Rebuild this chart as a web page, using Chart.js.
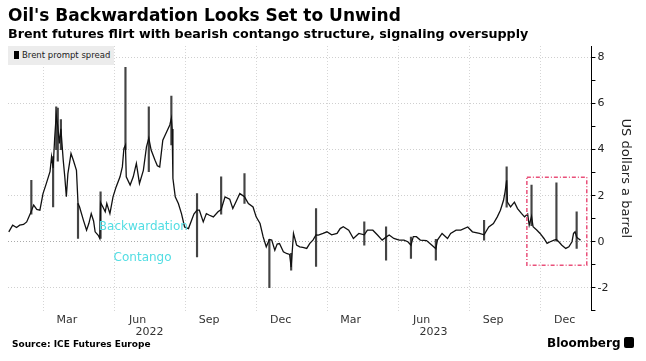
<!DOCTYPE html>
<html>
<head>
<meta charset="utf-8">
<script src="https://cdn.jsdelivr.net/npm/chart.js@4.4.0/dist/chart.umd.min.js"></script>
<style>
  body { margin: 0; background: #fff; font-family: 'DejaVu Sans', Verdana, sans-serif; }
  #wrap { position: relative; width: 646px; height: 361px; overflow: hidden; }
  #chart { position: absolute; left: 0; top: 0; }
  #title { position: absolute; left: 8px; top: 5px; font-size: 17px; font-weight: bold; color: #000; white-space: nowrap; }
  #subtitle { position: absolute; left: 8px; top: 26px; font-size: 12.7px; font-weight: bold; color: #000; white-space: nowrap; }
  #legend { position: absolute; left: 8px; top: 46px; height: 19px; padding: 0 4px 0 6px; background: #ececec;
            font-size: 8.5px; color: #222; line-height: 19px; white-space: nowrap; }
  #legend i { display: inline-block; width: 5px; height: 8px; background: #000; margin-right: 3px; vertical-align: -1px; }
  #source { position: absolute; left: 12px; top: 339px; font-size: 9px; font-weight: bold; color: #000; }
  #brand { position: absolute; left: 547px; top: 336px; font-size: 12px; font-weight: bold; color: #000; white-space: nowrap; }
  #brand span { display: inline-block; width: 10px; height: 11px; background: #000; border-radius: 2px; margin-left: 3px; vertical-align: -1px; }
</style>
</head>
<body>
<div id="wrap">
  <canvas id="chart" width="646" height="361"></canvas>
  <div id="title">Oil's Backwardation Looks Set to Unwind</div>
  <div id="subtitle">Brent futures flirt with bearish contango structure, signaling oversupply</div>
  <div id="legend"><i></i>Brent prompt spread</div>
  <div id="source">Source: ICE Futures Europe</div>
  <div id="brand">Bloomberg<span></span></div>
</div>
<script>
// Days counted from 1 Jan 2022, values in US dollars a barrel
const spreadDays = [0, 5, 10, 14, 19, 23, 28, 32, 36, 40, 44, 48, 53, 55, 57, 59, 61, 63, 65, 67,
  70, 72, 74, 76, 80, 83, 87, 89, 91, 96, 100, 103, 106, 109, 111, 115, 117, 118, 121, 124,
  126, 130, 134, 138, 143, 146, 148, 150, 151, 156, 160, 164, 168, 173, 177, 180, 183, 188, 191, 194,
  198, 203, 207, 209, 210, 211, 214, 218, 222, 226, 231, 235, 238, 242, 245, 250, 254, 258, 263, 269,
  273, 278, 284, 288, 293, 297, 303, 308, 314, 318, 323, 327, 331, 335, 338, 342, 345, 348, 353, 357,
  361, 363, 366, 370, 374, 378, 383, 387, 391, 395, 398, 404, 409, 415, 422, 426, 430, 437, 443, 450,
  457, 461, 468, 474, 480, 485, 489, 495, 502, 508, 513, 517, 520, 524, 529, 537, 544, 549, 551, 557,
  564, 568, 575, 581, 590, 596, 605, 611, 617, 623, 628, 632, 636, 638, 640, 641, 645, 650, 654, 659,
  663, 667, 669, 672, 674, 679, 683, 688, 692, 696, 701, 704, 707, 711, 716, 720, 724, 726, 728, 730,
  732, 735];
const spreadValues = [0.43, 0.72, 0.62, 0.72, 0.75, 0.86, 1.25, 1.59, 1.4, 1.37, 2.09, 2.5, 3.04, 3.69, 3.2, 4.49, 5.5, 5.0, 4.27, 4.9,
  3.54, 2.82, 1.95, 2.96, 3.83, 3.54, 3.1, 1.66, 1.51, 0.93, 0.5, 0.8, 1.22, 0.9, 0.43, 0.28, 0.14, 1.7, 1.51, 1.3,
  1.66, 1.22, 1.95, 2.38, 2.82, 3.25, 4.05, 4.2, 2.82, 2.46, 2.82, 3.4, 2.53, 3.1, 4.12, 4.5, 3.98, 3.54, 3.3, 3.25,
  4.41, 4.78, 5.07, 5.36, 4.9, 2.75, 1.95, 1.66, 1.22, 0.64, 0.57, 0.93, 1.2, 1.37, 1.37, 0.86, 1.22, 1.15, 1.08, 1.3,
  1.4, 1.95, 1.85, 1.44, 1.8, 2.09, 1.95, 1.66, 1.51, 1.08, 0.79, 0.21, -0.22, 0.1, 0.07, -0.37, -0.1, -0.08, -0.44, -0.51,
  -0.55, -1.1, 0.36, -0.15, -0.22, -0.25, -0.29, -0.07, 0.07, 0.3, 0.29, 0.36, 0.43, 0.3, 0.36, 0.57, 0.65, 0.5, 0.14, 0.36,
  0.3, 0.5, 0.5, 0.29, 0.07, 0.2, 0.29, 0.14, 0.07, 0.07, 0, -0.15, 0.22, 0.22, 0.07, 0.05, -0.15, -0.3, 0.07, 0.36,
  0.14, 0.36, 0.5, 0.5, 0.64, 0.43, 0.36, 0.3, 0.64, 0.79, 1.08, 1.37, 1.8, 2.17, 2.67, 1.72, 1.51, 1.72, 1.44, 1.23,
  1.08, 1.2, 0.72, 1.1, 0.65, 0.5, 0.36, 0.14, -0.07, 0, 0.07, 0.1, 0, -0.15, -0.29, -0.22, 0, 0.36, 0.43, 0.2,
  0.14, 0.07];

// Daily high/low wicks that stick out of the line
const wickDays  = [29, 57, 61, 63, 67, 89, 118, 150, 180, 209, 242, 273, 303, 335, 363, 395, 457, 485, 517, 549, 611, 640, 672, 704, 730];
const wickLows  = [1.2, 1.51, 4.0, 3.5, 4.0, 0.14, 0.14, 4.0, 3.04, 4.2, -0.66, 1.2, 1.66, -2.0, -1.24, -1.07, -0.15, -0.8, -0.73, -0.8, 0.07, 1.5, 0.7, 0.0, -0.29];
const wickHighs = [2.67, 3.7, 5.86, 5.8, 5.3, 1.66, 2.17, 7.57, 5.86, 6.33, 2.09, 2.82, 2.96, 0.1, -0.5, 1.44, 0.86, 0.65, 0.2, 0.1, 0.93, 3.25, 2.46, 2.56, 1.3];

// Axis ticks: gridlines at quarter starts, labels sit half a month before
const gridDays = [90, 181, 273, 365, 455, 546, 638, 730];
const monthLabels = ['Mar', 'Jun', 'Sep', 'Dec', 'Mar', 'Jun', 'Sep', 'Dec'];
const yearDays = [181, 546];
const yearLabels = ['2022', '2023'];
const yTicks = [-3, -2, -1, 0, 1, 2, 3, 4, 5, 6, 7, 8];

// Highlight box (days, values)
const boxDays = [666, 743];
const boxValues = [2.8, -1.02];

Chart.defaults.font.family = "'DejaVu Sans', Verdana, sans-serif";

// Draws the notes, the year row and the dashed box
const notesPlugin = {
  id: 'notes',
  afterDatasetsDraw(chart) {
    const ctx = chart.ctx;
    const x = chart.scales.x;
    const y = chart.scales.y;
    ctx.save();
    ctx.strokeStyle = '#e9507a';
    ctx.lineWidth = 1.5;
    ctx.setLineDash([4, 2, 1, 2]);
    const bx = x.getPixelForValue(boxDays[0]);
    const by = y.getPixelForValue(boxValues[0]);
    ctx.strokeRect(bx, by, x.getPixelForValue(boxDays[1]) - bx, y.getPixelForValue(boxValues[1]) - by);
    ctx.setLineDash([]);

    ctx.fillStyle = '#52dde3';
    ctx.font = "12px 'DejaVu Sans', Verdana, sans-serif";
    ctx.textAlign = 'center';
    ctx.textBaseline = 'middle';
    ctx.fillText('Backwardation', x.getPixelForValue(173), y.getPixelForValue(0.63));
    ctx.fillText('Contango', x.getPixelForValue(172), y.getPixelForValue(-0.72));

    ctx.fillStyle = '#333';
    ctx.font = "11px 'DejaVu Sans', Verdana, sans-serif";
    yearDays.forEach((d, i) => {
      ctx.fillText(yearLabels[i], x.getPixelForValue(d), x.top + 21);
    });
    ctx.restore();
  }
};

function createChart(ctx) {
  return new Chart(ctx, {
    type: 'bar',
    data: {
      datasets: [{
        type: 'line',
        label: 'Brent prompt spread',
        data: spreadDays.map((d, i) => ({ x: d, y: spreadValues[i] })),
        borderColor: '#111',
        borderWidth: 1.3,
        pointRadius: 0,
        tension: 0,
        order: 1
      }, {
        type: 'bar',
        label: 'wicks',
        data: wickDays.map((d, i) => ({ x: d, y: [wickLows[i], wickHighs[i]] })),
        backgroundColor: '#444',
        barThickness: 1.5,
        order: 2
      }]
    },
    options: {
      responsive: false,
      animation: false,
      layout: { padding: { top: 46, left: 8, right: 8, bottom: 31 } },
      plugins: { legend: { display: false }, tooltip: { enabled: false } },
      scales: {
        x: {
          type: 'linear',
          min: -1,
          max: 749,
          offset: false,
          afterBuildTicks: scale => { scale.ticks = gridDays.map(v => ({ value: v })); },
          ticks: {
            autoSkip: false,
            maxRotation: 0,
            padding: 3,
            labelOffset: -12,
            color: '#333',
            font: { size: 11 },
            callback: (v, i) => monthLabels[i]
          },
          grid: { color: '#d6d6d6', drawTicks: false },
          border: { display: false, dash: [1, 2] }
        },
        y: {
          position: 'right',
          min: -3,
          max: 8.5,
          afterBuildTicks: scale => { scale.ticks = yTicks.map(v => ({ value: v })); },
          ticks: {
            padding: 2,
            color: '#222',
            font: { size: 11 },
            callback: v => (v % 2 === 0 ? String(v) : '')
          },
          grid: {
            color: c => (c.tick && c.tick.value % 2 === 0 && c.tick.value > -3 ? (c.tick.value === 0 ? '#aaa' : '#cfcfcf') : 'rgba(0,0,0,0)'),
            tickColor: '#000',
            tickLength: 4,
            tickBorderDash: []
          },
          border: { display: true, color: '#000', width: 1, dash: [1, 2] },
          title: {
            display: true,
            text: 'US dollars a barrel',
            color: '#222',
            font: { size: 13 },
            padding: { top: 5, bottom: 7 }
          }
        }
      }
    },
    plugins: [notesPlugin]
  });
}

document.addEventListener('DOMContentLoaded', () => {
  createChart(document.getElementById('chart').getContext('2d'));
});
</script>
</body>
</html>
